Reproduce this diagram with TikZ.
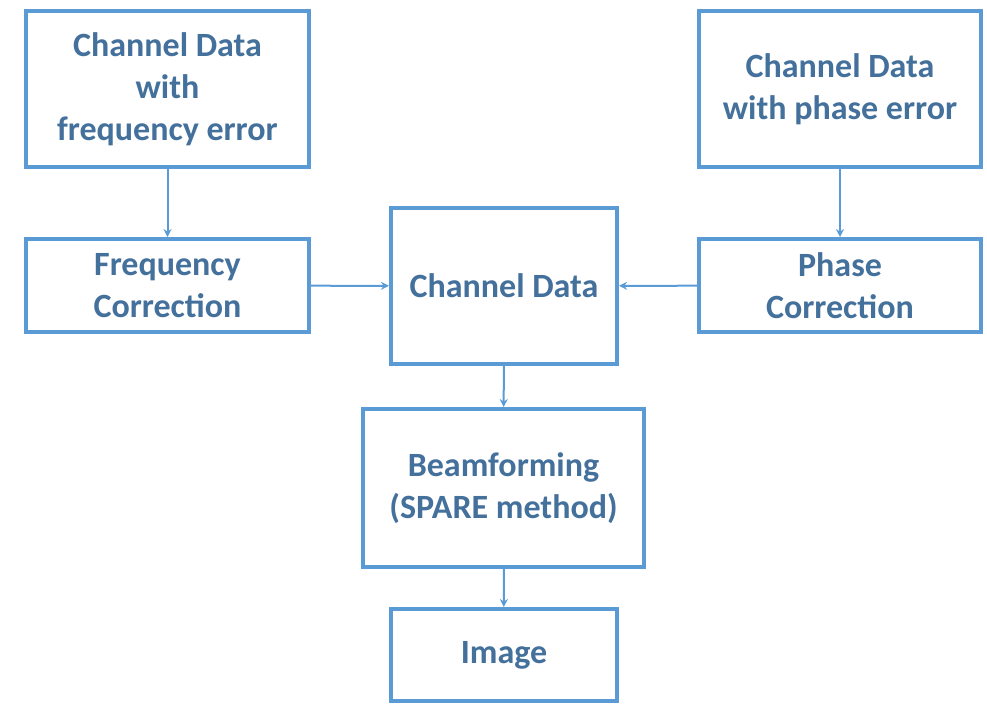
\documentclass[tikz,border=0pt]{standalone}
\usepackage{fontspec}
\setmainfont{Carlito}
\usetikzlibrary{arrows.meta}
\definecolor{boxblue}{HTML}{5B9BD5}
\definecolor{textblue}{HTML}{44709C}

\tikzset{
    block/.style = {draw = boxblue, line width = 4pt, text = textblue,
        font = \fontsize{34}{42}\selectfont\bfseries, align = center,
        inner sep = 0pt, fill = white},
    link/.style = {draw = boxblue, line width = 2pt,
        -{Stealth[length = 8pt, width = 8pt]}}
}

\begin{document}
\begin{tikzpicture}[x = 1pt, y = -1pt]
        \useasboundingbox (0,0) rectangle (987,705);
        \node (freq_err)[block, minimum width = 283pt, minimum height = 156pt]
        at ( 167.5,89) {Channel Data\\with\\frequency error};
        \node (freq_corr)[block, minimum width = 283pt, minimum height = 93pt]
        at ( 167.5,285.5) {Frequency\\Correction};
        \node (phase_err)[block, minimum width = 282pt, minimum height = 156pt]
        at ( 840,89) {Channel Data\\with phase error};
        \node (phase_corr)[block, minimum width = 282pt, minimum height = 93pt]
        at ( 840,285.5) {Phase\\Correction};
        \node (ch_data)[block, minimum width = 226pt, minimum height = 156pt]
        at ( 504,286) {Channel Data};
        \node (beam)[block, minimum width = 281pt, minimum height = 158pt]
        at ( 503.5,488) {Beamforming\\(SPARE method)};
        \node (image)[block, minimum width = 226pt, minimum height = 92pt]
        at ( 504,655) {Image};
        \path(freq_err) edge[link] (freq_corr);
        \path(phase_err) edge[link] (phase_corr);
        \path(freq_corr) edge[link] (ch_data);
        \path(phase_corr) edge[link] (ch_data);
        \path(ch_data) edge[link] (beam);
        \path(beam) edge[link] (image);
    \end{tikzpicture}
\end{document}
